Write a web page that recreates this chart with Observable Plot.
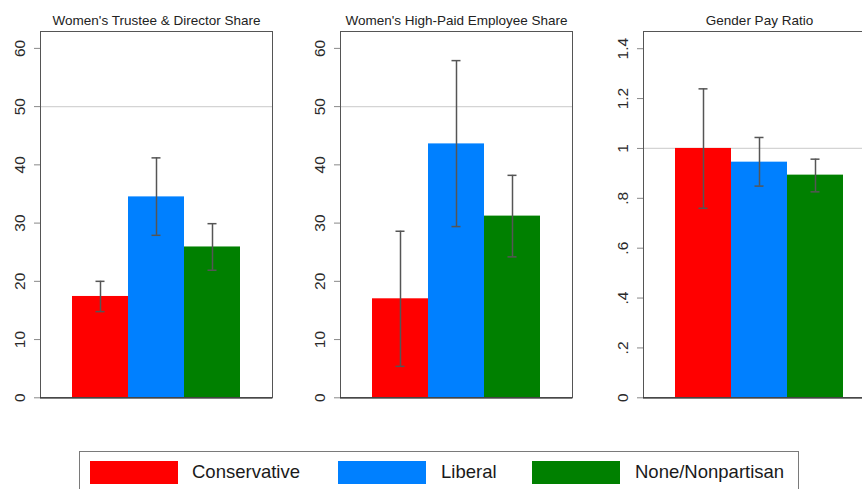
<!DOCTYPE html>
<html>
<head>
<meta charset="utf-8">
<script src="https://cdn.jsdelivr.net/npm/d3@7"></script>
<script src="https://cdn.jsdelivr.net/npm/@observablehq/plot@0.6"></script>
<style>
  html, body { margin: 0; padding: 0; background: #fff; }
  body { width: 862px; height: 489px; overflow: hidden; position: relative; font-family: "Liberation Sans", Arial, sans-serif; }
  .panel { position: absolute; top: 0; }
  #legend { position: absolute; left: 79px; top: 451px; width: 720px; height: 60px; border: 1px solid #7a7a7a; box-sizing: border-box; }
  .sw { position: absolute; top: 9px; width: 88px; height: 23px; }
  .lab { position: absolute; top: 8px; font-size: 18.5px; line-height: 24px; color: #1a1a1a; white-space: nowrap; }
</style>
</head>
<body>
<div id="legend"></div>
<script>
// ---- data ----
const categories = ["Conservative", "Liberal", "None/Nonpartisan"];
const colors = ["#ff0000", "#0080ff", "#008000"];

const panelTitles = [
  "Women's Trustee & Director Share",
  "Women's High-Paid Employee Share",
  "Gender Pay Ratio"
];

const trusteeShare = [17.4, 34.5, 25.9];
const trusteeLow   = [14.8, 27.9, 21.9];
const trusteeHigh  = [20.0, 41.2, 29.9];

const highPaidShare = [17.0, 43.6, 31.2];
const highPaidLow   = [5.4, 29.4, 24.2];
const highPaidHigh  = [28.6, 57.9, 38.2];

const payRatio     = [1.0, 0.945, 0.893];
const payRatioLow  = [0.76, 0.849, 0.826];
const payRatioHigh = [1.239, 1.044, 0.957];

const shareTicks = [0, 10, 20, 30, 40, 50, 60];
const shareTickLabels = ["0", "10", "20", "30", "40", "50", "60"];
const ratioTicks = [0, 0.2, 0.4, 0.6, 0.8, 1, 1.2, 1.4];
const ratioTickLabels = ["0", ".2", ".4", ".6", ".8", "1", "1.2", "1.4"];

const shareMax = 62.9;
const ratioMax = 1.469;
const shareRef = 50;
const ratioRef = 1;

// ---- drawing ----
function makePanel(title, values, lo, hi, ticks, tickLabels, yMax, ref) {
  const rows = categories.map((c, i) => ({cat: c, value: values[i], lo: lo[i], hi: hi[i]}));
  const tickRows = ticks.map((t, i) => ({t, label: tickLabels[i]}));
  return Plot.plot({
    width: 273,
    height: 420,
    marginLeft: 40,
    marginRight: 1,
    marginTop: 31,
    marginBottom: 22.7,
    style: {background: "transparent", maxWidth: "none", overflow: "visible", fontFamily: "Liberation Sans, Arial, sans-serif"},
    x: {domain: categories, paddingInner: 0, paddingOuter: 0.568, axis: null},
    y: {domain: [0, yMax]},
    color: {domain: categories, range: colors},
    marks: [
      Plot.ruleY([ref], {stroke: "#d4d4d4", strokeWidth: 1.3}),
      Plot.barY(rows, {x: "cat", y: "value", fill: "cat"}),
      Plot.ruleX(rows, {x: "cat", y1: "lo", y2: "hi", stroke: "#555", strokeWidth: 1.5}),
      Plot.tickY(rows, {x: "cat", y: "lo", stroke: "#555", strokeWidth: 1.5, insetLeft: 23.5, insetRight: 23.5}),
      Plot.tickY(rows, {x: "cat", y: "hi", stroke: "#555", strokeWidth: 1.5, insetLeft: 23.5, insetRight: 23.5}),
      Plot.frame({stroke: "#555"}),
      Plot.ruleY([0], {stroke: "#333", strokeWidth: 1.3}),
      Plot.axisY({ticks, tickSize: 6, tickFormat: () => "", stroke: "#888", label: null}),
      Plot.text(tickRows, {y: "t", text: "label", frameAnchor: "left", textAnchor: "middle", lineAnchor: "middle", dx: -20.3, rotate: -90, fontSize: 15.5, fill: "#2a2a2a"}),
      Plot.text([title], {frameAnchor: "top", textAnchor: "middle", lineAnchor: "middle", dy: -10.6, fontSize: 13.5, fill: "#222"})
    ]
  });
}

const panels = [
  makePanel(panelTitles[0], trusteeShare, trusteeLow, trusteeHigh, shareTicks, shareTickLabels, shareMax, shareRef),
  makePanel(panelTitles[1], highPaidShare, highPaidLow, highPaidHigh, shareTicks, shareTickLabels, shareMax, shareRef),
  makePanel(panelTitles[2], payRatio, payRatioLow, payRatioHigh, ratioTicks, ratioTickLabels, ratioMax, ratioRef)
];
const panelLefts = [0, 299.5, 603];
panels.forEach((svg, i) => {
  svg.classList.add("panel");
  svg.style.position = "absolute";
  svg.style.left = panelLefts[i] + "px";
  svg.style.top = "0px";
  document.body.appendChild(svg);
});

// legend
const legend = document.getElementById("legend");
const swatchLefts = [10, 258, 452];
const labelLefts = [112, 361, 555];
categories.forEach((c, i) => {
  const sw = document.createElement("div");
  sw.className = "sw";
  sw.style.left = swatchLefts[i] + "px";
  sw.style.background = colors[i];
  legend.appendChild(sw);
  const lb = document.createElement("div");
  lb.className = "lab";
  lb.style.left = labelLefts[i] + "px";
  lb.textContent = c;
  legend.appendChild(lb);
});
</script>
</body>
</html>
